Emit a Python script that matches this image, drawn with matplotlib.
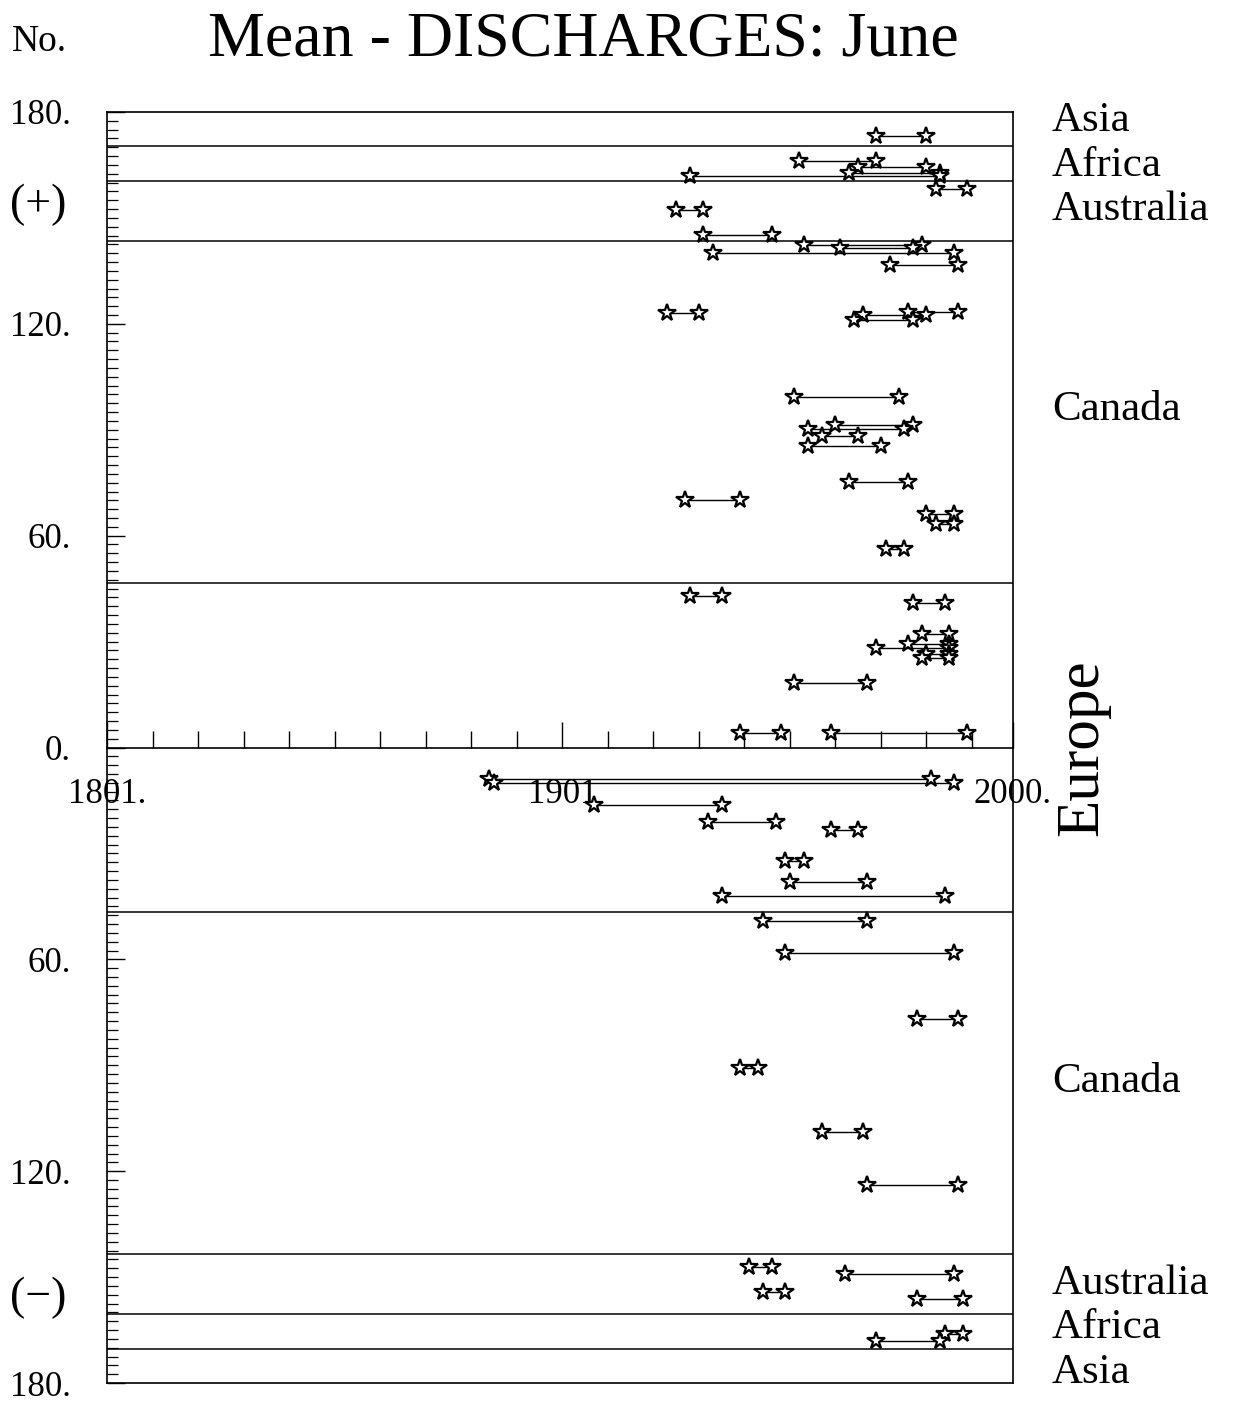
import numpy as np
import matplotlib.pyplot as plt

plt.rcParams['font.family'] = ['Liberation Serif', 'DejaVu Serif']

# ---- data: station no. (+ upper half, - lower half), first / last year ----
station = [173.2,
           166.2, 164.3, 162.8, 161.9,
           158.1, 152.2, 145.3,
           142.2, 141.6, 140.1, 136.6, 123.3, 122.5, 121.2, 123.1,
           99.2, 91.4, 90.3, 88.3, 85.3, 75.3, 70.0, 66.2, 63.2, 56.1,
           42.9, 41.0, 32.2, 29.2, 28.2, 26.5, 25.4, 18.3, 4.1, 4.1,
           -8.8, -10.1, -16.2, -21.2, -23.3, -32.2, -38.1, -42.1,
           -49.2, -58.3, -76.9, -90.8, -108.8, -123.9,
           -147.1, -149.0, -154.2, -156.1,
           -166.2, -168.1]
first_year = [1970,
              1953, 1966, 1964, 1929,
              1983, 1926, 1932,
              1954, 1962, 1934, 1973, 1977, 1967, 1965, 1924,
              1952, 1961, 1955, 1958, 1955, 1964, 1928, 1981, 1983, 1972,
              1929, 1978, 1980, 1977, 1970, 1981, 1980, 1952, 1940, 1960,
              1885, 1886, 1908, 1933, 1960, 1950, 1951, 1936,
              1945, 1950, 1979, 1940, 1958, 1968,
              1942, 1963, 1945, 1979,
              1985, 1970]
last_year = [1981,
             1970, 1981, 1984, 1984,
             1990, 1932, 1947,
             1980, 1978, 1987, 1988, 1988, 1981, 1978, 1931,
             1975, 1978, 1976, 1966, 1971, 1977, 1940, 1987, 1987, 1976,
             1936, 1985, 1986, 1986, 1986, 1986, 1986, 1968, 1949, 1990,
             1982, 1987, 1936, 1948, 1966, 1954, 1968, 1985,
             1968, 1987, 1988, 1944, 1967, 1988,
             1947, 1987, 1950, 1989,
             1989, 1984]

# region borders (both halves)
borders = [46.5, 143.5, 160.5, 170.5]
y_ticks = [-180, -120, -60, 0, 60, 120, 180]
y_labels = ['180.', '120.', '60.', '0.', '60.', '120.', '180.']
x_ticks = [1801, 1901, 2000]
x_labels = ['1801.', '1901', '2000.']

W, H = 1245, 1402
fig = plt.figure(figsize=(W / 100, H / 100), dpi=100)


def fx(x):
    return x / W


def fy(y):
    return 1 - y / H


ax = fig.add_axes([fx(107), fy(1383), fx(1013) - fx(107), fy(112) - fy(1383)])
ax.set_xlim(1801, 2000)
ax.set_ylim(-180, 180)

# frame: x axis sits on zero, bottom border drawn separately
for s in ['left', 'right', 'top', 'bottom']:
    ax.spines[s].set_linewidth(1.2)
ax.spines['bottom'].set_position(('data', 0))
ax.axhline(-180, color='black', lw=1.2, clip_on=False)

for b in borders:
    ax.axhline(b, color='black', lw=1.1)
    ax.axhline(-b, color='black', lw=1.1)

# x ticks (on the zero line, pointing up)
ax.set_xticks(x_ticks)
ax.set_xticklabels(x_labels)
ax.set_xticks(np.arange(1811, 2000, 10), minor=True)
ax.tick_params(axis='x', which='major', direction='in', length=19, width=1,
               pad=22, labelsize=25)
ax.tick_params(axis='x', which='minor', direction='in', length=12, width=1)

# y ticks
ax.set_yticks(y_ticks)
ax.set_yticklabels(y_labels)
ax.set_yticks(np.arange(-180, 180.1, 2.5), minor=True)
ax.tick_params(axis='y', which='major', direction='in', length=13, width=1,
               pad=26, labelsize=25, right=False)
ax.tick_params(axis='y', which='minor', direction='in', length=8, width=0.9,
               right=False)

# segments
ax.hlines(station, first_year, last_year, color='black', lw=1.0, zorder=3)
ax.plot(first_year, station, '*', ms=13, mfc='white', mec='black', mew=1.6,
        zorder=4, clip_on=False)
ax.plot(last_year, station, '*', ms=13, mfc='white', mec='black', mew=1.6,
        zorder=4, clip_on=False)

# texts
fig.text(fx(12), fy(42), 'No.', fontsize=27, va='center', ha='left')
fig.text(fx(583), fy(40), 'Mean - DISCHARGES: June', fontsize=46,
         va='center', ha='center')
fig.text(fx(10), fy(205), '(+)', fontsize=33, va='center', ha='left')
fig.text(fx(10), fy(1298), '(\u2212)', fontsize=33, va='center', ha='left')

regions = ['Asia', 'Africa', 'Australia', 'Canada',
           'Canada', 'Australia', 'Africa', 'Asia']
region_y = [121, 166, 210, 410, 1082, 1284, 1328, 1373]
for name, yy in zip(regions, region_y):
    fig.text(fx(1052), fy(yy), name, fontsize=31, va='center', ha='left')
fig.text(fx(1083), fy(748), 'Europe', fontsize=44, va='center', ha='center',
         rotation=90)

fig.savefig('out.png', dpi=100)
